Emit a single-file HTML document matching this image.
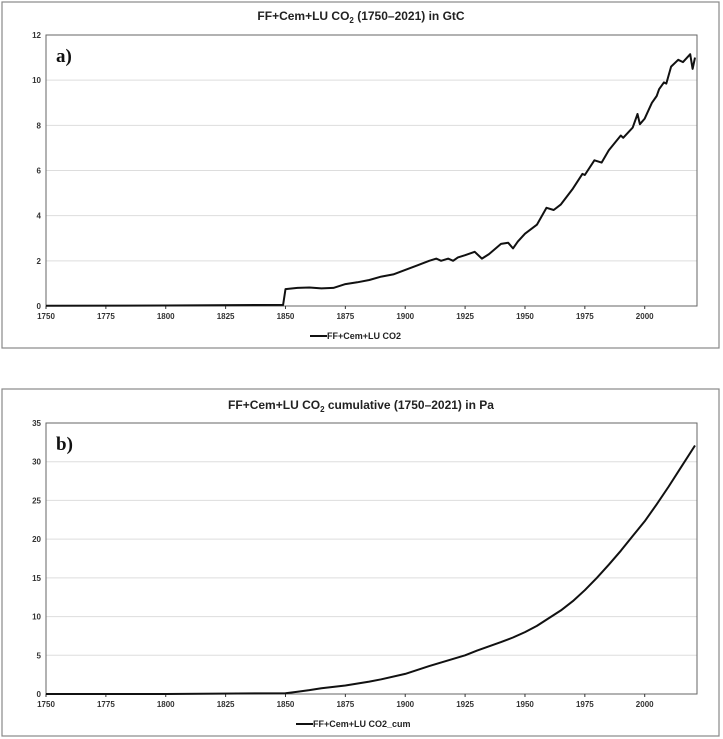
<!DOCTYPE html>
<html><head><meta charset="utf-8"><style>
html,body{margin:0;padding:0;background:#fff;width:723px;height:739px;overflow:hidden;font-family:"Liberation Sans",sans-serif}
</style></head><body>
<svg id="svg" width="723" height="739"></svg>
<script>
const yearsA=[1750,1800,1849,1850,1855,1860,1865,1870,1875,1880,1885,1890,1895,1900,1905,1910,1913,1915,1918,1920,1922,1925,1929,1932,1935,1940,1943,1945,1947,1950,1955,1959,1962,1965,1970,1974,1975,1979,1982,1985,1990,1991,1995,1997,1998,2000,2003,2005,2006,2008,2009,2011,2014,2016,2019,2020,2021];
const valuesA=[0.01,0.02,0.05,0.75,0.8,0.82,0.78,0.8,0.97,1.05,1.15,1.3,1.4,1.6,1.8,2.0,2.1,2.0,2.1,2.0,2.15,2.25,2.4,2.1,2.3,2.75,2.8,2.55,2.85,3.2,3.6,4.35,4.25,4.5,5.2,5.85,5.8,6.45,6.35,6.9,7.55,7.45,7.9,8.5,8.05,8.3,9.0,9.3,9.6,9.9,9.85,10.6,10.9,10.8,11.15,10.5,11.0];
const yearsB=[1750,1800,1850,1855,1860,1865,1875,1885,1890,1900,1910,1925,1930,1940,1945,1950,1955,1960,1965,1970,1975,1980,1985,1990,1995,2000,2005,2010,2015,2021];
const valuesB=[0,0,0.1,0.3,0.5,0.75,1.1,1.6,1.9,2.6,3.6,5.0,5.6,6.7,7.3,8.0,8.8,9.8,10.8,12.0,13.4,15.0,16.7,18.5,20.4,22.3,24.5,26.8,29.2,32.1];
const xTicks=[1750,1775,1800,1825,1850,1875,1900,1925,1950,1975,2000];
const yTicksA=[0,2,4,6,8,10,12];
const yTicksB=[0,5,10,15,20,25,30,35];

const NS="http://www.w3.org/2000/svg";
const svg=document.getElementById('svg');
function mk(tag,attrs,parent){const e=document.createElementNS(NS,tag);for(const k in attrs)e.setAttribute(k,attrs[k]);(parent||svg).appendChild(e);return e;}

function chart(o){
  const g=mk('g',{});
  
  
  const frame=mk('rect',{x:2,y:o.boxTop,width:717,height:o.boxH,fill:'#fff',stroke:'#888','stroke-width':1.2},g);
  
  
  const L=46,R=697,T=o.top,B=o.bottom;
  const sx=y=>L+(y-1750)/(2021-1750)*(R-L-2);
  const sy=v=>B-v/o.ymax*(B-T);
  o.yticks.forEach(v=>{
    if(v>0&&v<o.ymax){const gl=mk('line',{x1:L,x2:R,y1:sy(v),y2:sy(v),stroke:'#ddd','stroke-width':1},g);
    }
    const t=mk('text',{x:L-5,y:sy(v)+3,'text-anchor':'end','font-size':8,'font-weight':'bold',fill:'#333'},g);
    t.textContent=v;
  });
  const pa=mk('rect',{x:L,y:T,width:R-L,height:B-T,fill:'none',stroke:'#666','stroke-width':1},g);
  
  xTicks.forEach(y=>{
    mk('line',{x1:sx(y),x2:sx(y),y1:B,y2:B+3,stroke:'#333'},g);
    const t=mk('text',{x:sx(y),y:B+13,'text-anchor':'middle','font-size':8,'font-weight':'bold',fill:'#333'},g);
    t.textContent=y;
  });
  let d='';o.xs.forEach((y,i)=>{d+=(i?'L':'M')+sx(y).toFixed(1)+' '+sy(o.vs[i]).toFixed(1);});
  const p=mk('path',{d:d,fill:'none',stroke:'#111','stroke-width':2,'stroke-linejoin':'round'},g);
  
  const tt=mk('text',{x:361,y:o.titleY,'text-anchor':'middle','font-size':12,'font-weight':'bold',fill:'#222'},g);
  tt.innerHTML=o.title;
  const pl=mk('text',{x:56,y:T+27,'font-size':19,'font-weight':'bold','font-family':'Liberation Serif, serif',fill:'#111'},g);
  pl.textContent=o.label;
  const lg=mk('g',{},g);
  mk('line',{x1:o.legX,x2:o.legX+17,y1:o.legY-3,y2:o.legY-3,stroke:'#111','stroke-width':2},lg);
  const lt=mk('text',{x:o.legX+17,y:o.legY,'font-size':9,'font-weight':'bold',fill:'#222'},lg);lt.textContent=o.legend;
}
chart({name:'chart-a-annual',boxTop:2,boxH:346,top:35,bottom:306,ymax:12,yticks:yTicksA,xs:yearsA,vs:valuesA,
  title:'FF+Cem+LU CO<tspan font-size="8" dy="3">2</tspan><tspan dy="-3"> (1750–2021) in GtC</tspan>',titleY:20,label:'a)',legend:'FF+Cem+LU CO2',legX:310,legY:339});
chart({name:'chart-b-cumulative',boxTop:389,boxH:347,top:423,bottom:694,ymax:35,yticks:yTicksB,xs:yearsB,vs:valuesB,
  title:'FF+Cem+LU CO<tspan font-size="8" dy="3">2</tspan><tspan dy="-3"> cumulative (1750–2021) in Pa</tspan>',titleY:409,label:'b)',legend:'FF+Cem+LU CO2_cum',legX:296,legY:727});
</script>
</body></html>
